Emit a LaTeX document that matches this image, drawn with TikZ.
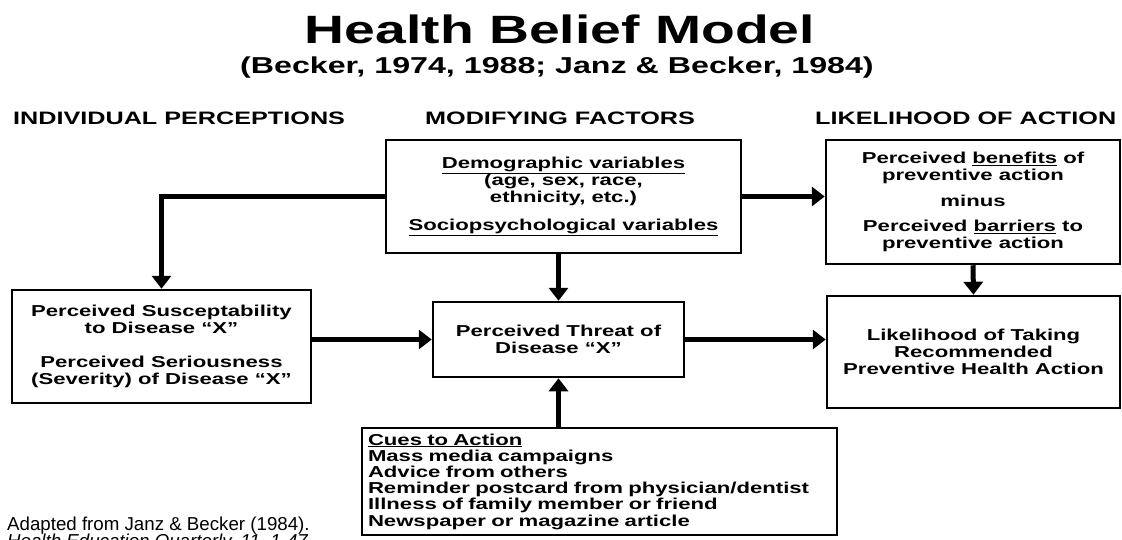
\documentclass[tikz,border=0pt]{standalone}
\usepackage{fontspec}
\setmainfont{Liberation Sans}
\newfontfamily\widefont{Liberation Sans}[FakeStretch=1.4]
\usetikzlibrary{arrows.meta}
\begin{document}
\begin{tikzpicture}[x=1pt,y=-1pt,
  box/.style={draw, line width=2.5pt, inner sep=0pt, align=center,
    font=\widefont\bfseries\fontsize{15.8}{17.2}\selectfont},
  arr/.style={line width=5pt, -{Triangle[width=19pt,length=13pt]}},
  head/.style={font=\widefont\bfseries\fontsize{18}{20}\selectfont, anchor=base west, inner sep=0pt},
  foot/.style={font=\fontsize{18.7}{20}\selectfont, anchor=base west, inner sep=0pt}]

\useasboundingbox (0,0) rectangle (1122,539);

% titles
\node[font=\widefont\bfseries\fontsize{39.5}{42}\selectfont, anchor=base, inner sep=0pt] (title) at (560,43) {Health Belief Model};
\node[font=\widefont\bfseries\fontsize{23}{25}\selectfont, anchor=base, inner sep=0pt] (sub) at (557,73) {(Becker, 1974, 1988; Janz \& Becker, 1984)};

% column headers
\node[head] (h1) at (13,124) {INDIVIDUAL PERCEPTIONS};
\node[head] (h2) at (425,124) {MODIFYING FACTORS};
\node[head] (h3) at (815,124) {LIKELIHOOD OF ACTION};

% boxes
\node[box, minimum width=355pt, minimum height=113pt] (demo) at (563.5,196.5)
  {\underline{Demographic variables}\\ (age, sex, race,\hspace*{12pt}\\ ethnicity, etc.)\hspace*{12pt}\\[11pt] \underline{Sociopsychological variables}};

\node[box, minimum width=294pt, minimum height=124pt] (bene) at (973,202)
  {Perceived \underline{benefits} of\\ preventive action\\[9pt] minus\\[8pt] Perceived \underline{barriers} to\\ preventive action};

\node[box, minimum width=299pt, minimum height=113pt] (susc) at (161.5,346.5)
  {Perceived Susceptability\\ to Disease “X”\\[16pt] Perceived Seriousness\\ (Severity) of Disease “X”};

\node[box, minimum width=251pt, minimum height=75pt] (threat) at (558.5,339.5)
  {Perceived Threat of\\ Disease “X”};

\node[box, minimum width=293pt, minimum height=112pt] (like) at (973.5,352)
  {Likelihood of Taking\\ Recommended\\ Preventive Health Action};

\node[box, align=left, text width=463pt, minimum width=475pt, minimum height=107pt,
  font=\widefont\bfseries\fontsize{15.8}{16.2}\selectfont] (cues) at (599.5,481.5)
  {\underline{Cues to Action}\\ Mass media campaigns\\ Advice from others\\ Reminder postcard from physician/dentist\\ Illness of family member or friend\\ Newspaper or magazine article};

% connectors
\draw[arr] (demo.west) -| (susc.north);
\draw[arr] (demo.east) -- (demo.east -| bene.west);
\draw[arr] (threat.north |- demo.south) -- (threat.north);
\draw[arr] (susc.east |- threat.west) -- (threat.west);
\draw[arr] (threat.east) -- (threat.east -| like.west);
\draw[arr] (bene.south) -- (like.north);
\draw[arr] (threat.south |- cues.north) -- (threat.south);

% footnote
\node[foot] (fn1) at (7,530) {Adapted from Janz \& Becker (1984).};
\node[foot, font=\itshape\fontsize{18.7}{20}\selectfont] (fn2) at (7,547) {Health Education Quarterly, 11, 1-47};
\end{tikzpicture}
\end{document}
